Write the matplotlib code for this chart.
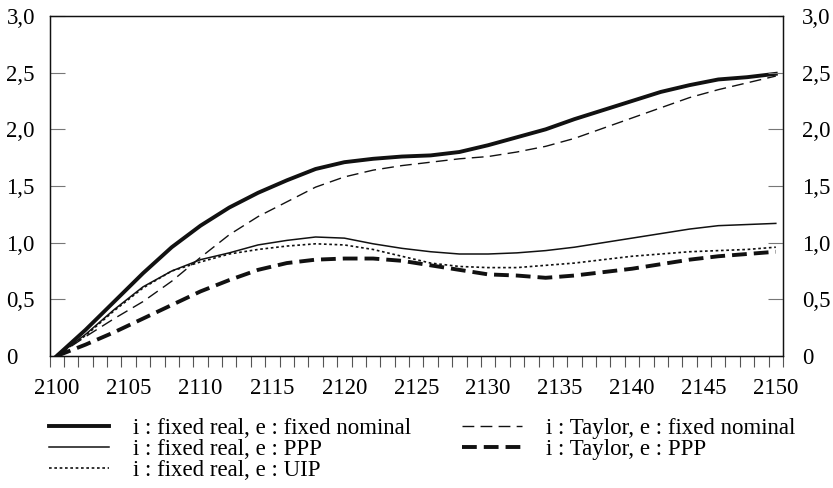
import matplotlib
matplotlib.use("Agg")
import matplotlib.pyplot as plt
from matplotlib.ticker import FixedLocator, FuncFormatter

years = list(range(2100, 2151, 2))

fixed_real_fixed_nominal = [0.00, 0.23, 0.48, 0.73, 0.96, 1.15, 1.31, 1.44, 1.55, 1.65, 1.71, 1.74, 1.76,
                            1.77, 1.80, 1.86, 1.93, 2.00, 2.09, 2.17, 2.25, 2.33, 2.39, 2.44, 2.46, 2.49]
taylor_fixed_nominal = [0.00, 0.17, 0.33, 0.48, 0.66, 0.87, 1.07, 1.23, 1.36, 1.49, 1.58, 1.64, 1.68,
                        1.71, 1.74, 1.76, 1.80, 1.85, 1.92, 2.01, 2.10, 2.19, 2.28, 2.35, 2.41, 2.47]
fixed_real_ppp = [0.00, 0.19, 0.41, 0.61, 0.75, 0.85, 0.91, 0.98, 1.02, 1.05, 1.04, 0.99, 0.95,
                  0.92, 0.90, 0.90, 0.91, 0.93, 0.96, 1.00, 1.04, 1.08, 1.12, 1.15, 1.16, 1.17]
fixed_real_uip = [0.00, 0.18, 0.40, 0.60, 0.75, 0.83, 0.90, 0.94, 0.97, 0.99, 0.98, 0.94, 0.88,
                  0.82, 0.79, 0.78, 0.78, 0.80, 0.82, 0.85, 0.88, 0.90, 0.92, 0.93, 0.94, 0.96]
taylor_ppp = [0.00, 0.10, 0.21, 0.33, 0.45, 0.57, 0.67, 0.76, 0.82, 0.85, 0.86, 0.86, 0.84,
              0.80, 0.76, 0.72, 0.71, 0.69, 0.71, 0.74, 0.77, 0.81, 0.85, 0.88, 0.90, 0.92]

labels = ["i : fixed real, e : fixed nominal",
          "i : Taylor, e : fixed nominal",
          "i : fixed real, e : PPP",
          "i : Taylor, e : PPP",
          "i : fixed real, e : UIP"]

xtick_labels = list(range(2100, 2151, 5))
ytick_values = [0, 0.5, 1.0, 1.5, 2.0, 2.5, 3.0]

plt.rcParams['font.family'] = ['Liberation Serif', 'DejaVu Serif']
FS = 16.5

fig = plt.figure(figsize=(8.33, 4.88), dpi=100)
ax = fig.add_axes([49.5/833, 1-356/488, (783-49.5)/833, (356-16)/488])

col = '#111111'
lA, = ax.plot(years, fixed_real_fixed_nominal, color=col, lw=2.8, solid_joinstyle='round')
lB, = ax.plot(years, taylor_fixed_nominal, color=col, lw=1.0, dashes=(8.5, 4.5))
lC, = ax.plot(years, fixed_real_ppp, color=col, lw=1.1, solid_joinstyle='round')
lE, = ax.plot(years, taylor_ppp, color=col, lw=2.8, dashes=(3.8, 1.8))
lD, = ax.plot(years, fixed_real_uip, color=col, lw=1.2, dashes=(1.6, 1.6))

ax.set_xlim(2099.5, 2150.5)
ax.set_ylim(0, 3.0)

ax.xaxis.set_major_locator(FixedLocator(xtick_labels))
ax.xaxis.set_minor_locator(FixedLocator([y - 0.5 for y in range(2100, 2152)]))
ax.tick_params(axis='x', which='major', length=0, pad=15.5, labelsize=FS)
ax.tick_params(axis='x', which='minor', length=8, width=0.8, direction='out', color='#555555')

fmt = FuncFormatter(lambda v, p: '0' if v == 0 else f'{v:.1f}'.replace('.', ','))
ax.yaxis.set_major_locator(FixedLocator(ytick_values))
ax.yaxis.set_major_formatter(fmt)
ax.tick_params(axis='y', which='major', direction='in', length=11, width=0.8, color='#777777',
               pad=31, labelsize=FS)
for t in ax.get_yticklabels():
    t.set_horizontalalignment('left')

ax2 = ax.twinx()
ax2.set_ylim(0, 3.0)
ax2.yaxis.set_major_locator(FixedLocator(ytick_values))
ax2.yaxis.set_major_formatter(fmt)
ax2.tick_params(axis='y', which='major', direction='in', length=11, width=0.8, color='#777777',
                pad=13.5, labelsize=FS)

for a in (ax, ax2):
    for s in a.spines.values():
        s.set_linewidth(0.9)
        s.set_color('#111111')

leg_kw = dict(frameon=False, fontsize=FS, handlelength=2.6, handletextpad=1.05,
              labelspacing=0.0, borderpad=0, borderaxespad=0, loc='upper left')
fig.legend([lA, lC, lD], [labels[0], labels[2], labels[4]],
           bbox_to_anchor=(49/833, 1-418/488), **leg_kw)
fig.legend([lB, lE], [labels[1], labels[3]],
           bbox_to_anchor=(462/833, 1-418/488), **leg_kw)

fig.savefig('out.png', dpi=100)
